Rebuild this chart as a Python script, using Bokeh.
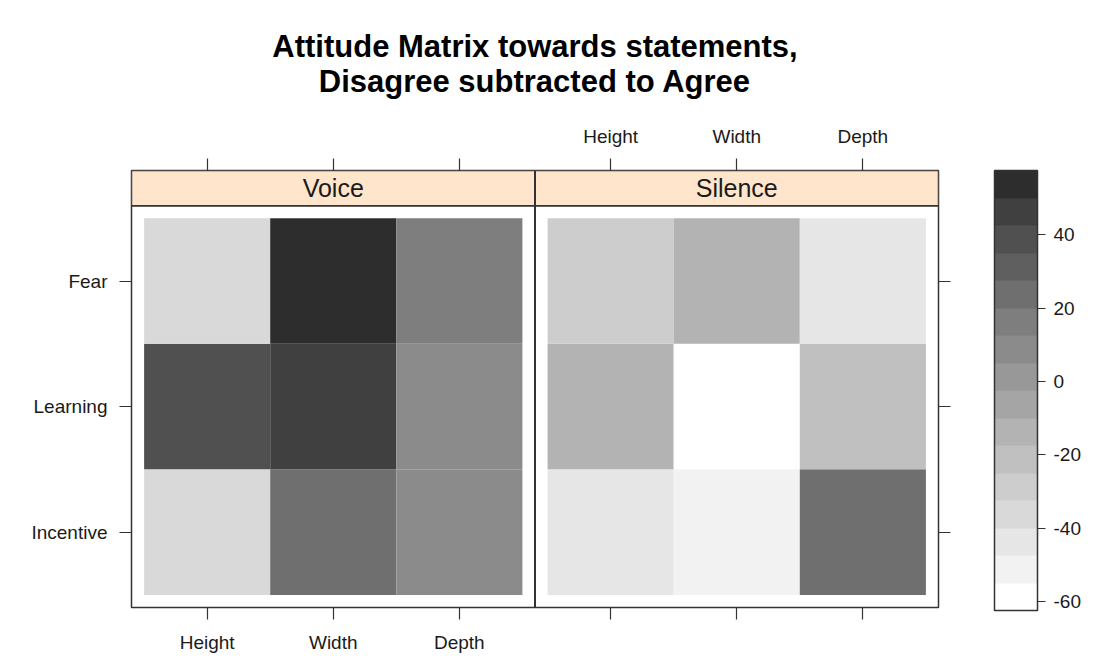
from bokeh.plotting import figure
from bokeh.models import (ColumnDataSource, LinearColorMapper, ColorBar, FixedTicker,
                          LinearAxis, Range1d, Span, Title)
from bokeh.core.properties import value
from bokeh.embed import file_html
from bokeh.resources import INLINE

# ---------------- data ----------------
panels = ["Voice", "Silence"]
statements = ["Incentive", "Learning", "Fear"]          # bottom -> top
dimensions = ["Height", "Width", "Depth"]
title_lines = ["Attitude Matrix towards statements,", "Disagree subtracted to Agree"]

voice_fear = [-36, 56, 16]
voice_learning = [39, 46, 9]
voice_incentive = [-36, 24, 8]
silence_fear = [-29, -14, -44]
silence_learning = [-14, -61, -21]
silence_incentive = [-44, -52, 24]

palette = ["#ffffff", "#f2f2f2", "#e6e6e6", "#d9d9d9", "#cdcdcd", "#c0c0c0",
           "#b3b3b3", "#a5a5a5", "#989898", "#8b8b8b", "#7e7e7e", "#6f6f6f",
           "#5f5f5f", "#505050", "#404040", "#2d2d2d"]
scale_low, scale_high = -62.5, 57.5
scale_ticks = [-60, -40, -20, 0, 20, 40]

# ---------------- layout constants ----------------
FONT = "Liberation Sans"
TICK_SIZE = "19px"
PAD = 0.1                      # padding inside each panel (data units)
PANEL_W = len(dimensions) + 2 * PAD
STRIP_H = 0.28
X0 = 1 - 0.5 - PAD
Y0 = 1 - 0.5 - PAD
Y_PANEL_TOP = Y0 + len(statements) + 2 * PAD
Y_TOP = Y_PANEL_TOP + STRIP_H

panel_rows = {
    "Voice": {"Fear": voice_fear, "Learning": voice_learning, "Incentive": voice_incentive},
    "Silence": {"Fear": silence_fear, "Learning": silence_learning, "Incentive": silence_incentive},
}

xs, ys, vs = [], [], []
for pi, panel in enumerate(panels):
    for si, st in enumerate(statements):
        for di, dim in enumerate(dimensions):
            xs.append(di + 1 + pi * PANEL_W)
            ys.append(si + 1)
            vs.append(panel_rows[panel][st][di])
src = ColumnDataSource(dict(x=xs, y=ys, v=vs))

mapper = LinearColorMapper(palette=palette, low=scale_low, high=scale_high)

p = figure(title=None, frame_width=807, frame_height=437,
           x_range=Range1d(X0, X0 + len(panels) * PANEL_W), y_range=Range1d(Y0, Y_TOP),
           output_backend="svg", toolbar_location=None, x_axis_location=None, y_axis_location=None,
           min_border_left=131, min_border_top=170, min_border_right=157, min_border_bottom=55)
p.xgrid.visible = False
p.ygrid.visible = False
p.outline_line_color = "#333333"
p.outline_line_width = 1.5
p.background_fill_color = "white"
p.border_fill_color = "white"

p.rect(x="x", y="y", width=1, height=1, source=src,
       fill_color={"field": "v", "transform": mapper}, line_color=None)

# strips
strip_src = ColumnDataSource(dict(
    left=[X0 + i * PANEL_W for i in range(len(panels))],
    right=[X0 + (i + 1) * PANEL_W for i in range(len(panels))],
    cx=[X0 + (i + 0.5) * PANEL_W for i in range(len(panels))],
    name=panels))
p.quad(left="left", right="right", bottom=Y_PANEL_TOP, top=Y_TOP, source=strip_src,
       fill_color="#ffe5cc", line_color="#333333", line_width=1.5)
p.text(x="cx", y=(Y_PANEL_TOP + Y_TOP) / 2, text="name", source=strip_src,
       text_align="center", text_baseline="middle", text_font=value(FONT),
       text_font_size="25px", text_color="#1a1a1a")

for i in range(1, len(panels)):
    p.add_layout(Span(location=X0 + i * PANEL_W, dimension="height",
                      line_color="#333333", line_width=2))
p.add_layout(Span(location=Y_PANEL_TOP, dimension="width", line_color="#333333", line_width=1.5))

# axes
xticks = [d + 1 + pi * PANEL_W for pi in range(len(panels)) for d in range(len(dimensions))]
yticks = [i + 1 for i in range(len(statements))]


def style(ax):
    ax.axis_line_color = None
    ax.major_tick_in = 0
    ax.major_tick_out = 12
    ax.minor_tick_line_color = None
    ax.major_tick_line_color = "#333333"
    ax.major_tick_line_width = 1.2
    ax.major_label_text_font = FONT
    ax.major_label_text_font_size = TICK_SIZE
    ax.major_label_text_color = "#1a1a1a"


bottom = LinearAxis(ticker=FixedTicker(ticks=xticks))
bottom.major_label_overrides = {t: (dimensions[i] if i < 3 else "") for i, t in enumerate(xticks)}
style(bottom)
bottom.major_label_standoff = 12
p.add_layout(bottom, "below")

top = LinearAxis(ticker=FixedTicker(ticks=xticks))
top.major_label_overrides = {t: (dimensions[i - 3] if i >= 3 else "") for i, t in enumerate(xticks)}
style(top)
top.major_label_standoff = 12
p.add_layout(top, "above")

left = LinearAxis(ticker=FixedTicker(ticks=yticks))
left.major_label_overrides = {t: statements[i] for i, t in enumerate(yticks)}
style(left)
left.major_label_standoff = 12
p.add_layout(left, "left")

right = LinearAxis(ticker=FixedTicker(ticks=yticks))
right.major_label_overrides = {t: "" for t in yticks}
style(right)
p.add_layout(right, "right")

cb = ColorBar(color_mapper=mapper, ticker=FixedTicker(ticks=scale_ticks),
              major_label_overrides={t: str(t) for t in scale_ticks},
              width=43, height=440, location=(44, -3), padding=0, margin=0,
              major_tick_in=0, major_tick_out=8, major_tick_line_color="#333333",
              bar_line_color="#333333", bar_line_width=1.5, border_line_color=None,
              major_label_text_font=FONT, major_label_text_font_size=TICK_SIZE,
              major_label_text_color="#1a1a1a", label_standoff=8)
p.add_layout(cb, "right")

p.add_layout(Title(text="\n".join(title_lines), align="center", text_align="center",
                   text_font=FONT, text_font_size="31px", text_font_style="bold",
                   text_color="#000000", text_line_height=1.0, standoff=47), "above")

open("out.html", "w").write(file_html(p, INLINE))
